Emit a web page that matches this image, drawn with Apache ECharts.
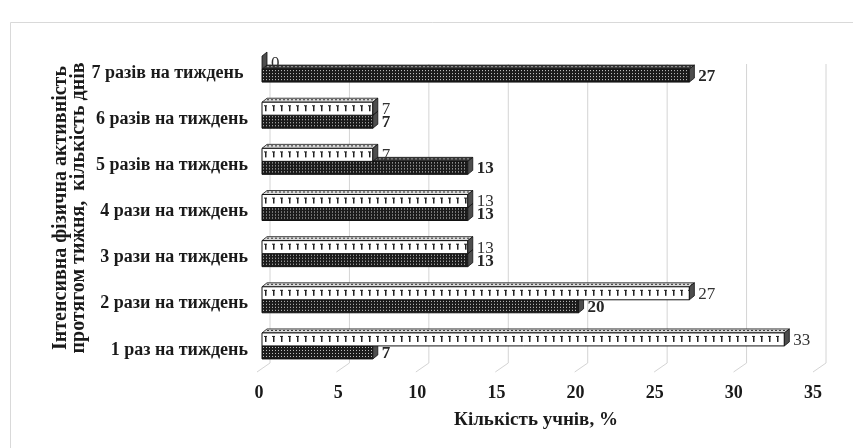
<!DOCTYPE html>
<html>
<head>
<meta charset="utf-8">
<style>
  html, body { margin: 0; padding: 0; background: #ffffff; }
  #chart { width: 853px; height: 448px; }
</style>
<script src="https://cdn.jsdelivr.net/npm/echarts@6/dist/echarts.min.js"></script>
</head>
<body>
<div id="chart"></div>
<script>
// Categories, bottom to top on the category axis
const categories = [
  '1 раз на тиждень',
  '2 рази на тиждень',
  '3 рази на тиждень',
  '4 рази на тиждень',
  '5 разів на тиждень',
  '6 разів на тиждень',
  '7 разів на тиждень '
];
// Light (zigzag) series, upper bar of each pair
const seriesLight = [33, 27, 13, 13, 7, 7, 0];
// Dark (dotted) series, lower bar of each pair
const seriesDark = [7, 20, 13, 13, 13, 7, 27];
// Value-axis ticks
const xTicks = [0, 5, 10, 15, 20, 25, 30, 35];

const SERIF = '"Liberation Serif", "Times New Roman", serif';
const Y_TITLE = 'Інтенсивна фізична активність\nпротягом тижня,  кількість днів';

// ---- fill patterns -------------------------------------------------------
function makeDotTile() {
  const c = document.createElement('canvas');
  c.width = 3; c.height = 3;
  const g = c.getContext('2d');
  g.fillStyle = '#1b1b1b';
  g.fillRect(0, 0, 3, 3);
  g.fillStyle = '#d6d6d6';
  g.fillRect(1, 1, 1, 1);
  return c;
}
function makeZigTile() {
  const c = document.createElement('canvas');
  c.width = 8; c.height = 13;
  const g = c.getContext('2d');
  g.fillStyle = '#ffffff';
  g.fillRect(0, 0, 8, 13);
  g.fillStyle = '#222222';
  g.fillRect(3, 3, 1.5, 6);
  g.fillRect(2, 3, 3, 1);
  return c;
}
function makeTopTile(dark) {
  const c = document.createElement('canvas');
  c.width = 4; c.height = 4;
  const g = c.getContext('2d');
  g.fillStyle = dark ? '#3a3a3a' : '#d8d8d8';
  g.fillRect(0, 0, 4, 4);
  g.fillStyle = dark ? '#9a9a9a' : '#333333';
  g.fillRect(1, 1, 2, 1);
  return c;
}
const dotTile = makeDotTile();
const zigTile = makeZigTile();
const topLightTile = makeTopTile(false);
const topDarkTile = makeTopTile(true);

// ---- 3D bar geometry -----------------------------------------------------
const BAR_H = 13;      // front face height
const DEPTH_X = 5;     // depth offset to the right
const DEPTH_Y = 4;     // depth offset upwards
const SHIFT_X = 3;     // bars sit slightly inside the depth box

function barRenderer(isLight) {
  return function (params, api) {
    const val = api.value(0);
    const idx = api.value(1);
    const start = api.coord([0, idx]);
    const end = api.coord([val, idx]);
    const cy = start[1];
    const x0 = start[0] + SHIFT_X;
    const x1 = end[0] + SHIFT_X;
    const yTop = isLight ? cy - 17 : cy - 4;
    const yBot = yTop + BAR_H;

    const children = [];
    if (x1 > x0) {
      children.push({
        type: 'polygon',
        shape: { points: [[x0, yTop], [x1, yTop], [x1 + DEPTH_X, yTop - DEPTH_Y], [x0 + DEPTH_X, yTop - DEPTH_Y]] },
        style: {
          fill: { image: isLight ? topLightTile : topDarkTile, repeat: 'repeat', x: x0, y: yTop - DEPTH_Y },
          stroke: '#1a1a1a', lineWidth: 0.8
        }
      });
      children.push({
        type: 'rect',
        shape: { x: x0, y: yTop, width: x1 - x0, height: BAR_H },
        style: {
          fill: { image: isLight ? zigTile : dotTile, repeat: 'repeat', x: x0, y: yTop },
          stroke: '#111111', lineWidth: 1
        }
      });
    }
    children.push({
      type: 'polygon',
      shape: { points: [[x1, yTop], [x1 + DEPTH_X, yTop - DEPTH_Y], [x1 + DEPTH_X, yBot - DEPTH_Y], [x1, yBot]] },
      style: { fill: '#4d4d4d', stroke: '#111111', lineWidth: 0.8 }
    });
    children.push({
      type: 'text',
      x: x1 + DEPTH_X + 4,
      y: (yTop + yBot) / 2 + 1,
      style: {
        text: String(val),
        font: (isLight ? 'normal ' : 'bold ') + '17px ' + SERIF,
        fill: isLight ? '#333333' : '#262626',
        verticalAlign: 'middle',
        align: 'left'
      }
    });
    return { type: 'group', children: children };
  };
}

// Back-wall gridlines with their slanted floor segments
function gridRenderer(params, api) {
  const p = api.coord([api.value(0), 0]);
  const cs = params.coordSys;
  const bottom = cs.y + cs.height;
  return {
    type: 'polyline',
    shape: { points: [[p[0], cs.y], [p[0], bottom], [p[0] - 13, bottom + 9]] },
    style: { stroke: '#d4d4d4', lineWidth: 1, fill: null }
  };
}

const chart = echarts.init(document.getElementById('chart'), null, { renderer: 'canvas' });

chart.setOption({
  animation: false,
  backgroundColor: '#ffffff',
  graphic: [
    {
      type: 'rect',
      shape: { x: 10.5, y: 22.5, width: 900, height: 600 },
      style: { fill: null, stroke: '#d9d9d9', lineWidth: 1 },
      silent: true, z: -10
    },
    {
      // vertical title of the category axis
      type: 'text',
      x: 70, y: 208,
      rotation: Math.PI / 2,
      style: {
        text: Y_TITLE,
        font: 'bold 20px ' + SERIF,
        lineHeight: 18,
        fill: '#1a1a1a',
        align: 'center',
        verticalAlign: 'middle'
      },
      silent: true
    }
  ],
  grid: [
    { left: 259, right: 40, top: 50, bottom: 75 },
    { left: 270, right: 27, top: 64, bottom: 85 }
  ],
  xAxis: [
    {
      type: 'value', gridIndex: 0, min: 0, max: 35, interval: 5,
      axisLine: { show: false }, axisTick: { show: false }, splitLine: { show: false },
      axisLabel: {
        margin: 11,
        fontFamily: SERIF, fontWeight: 'bold', fontSize: 18, color: '#1a1a1a',
        formatter: function (v) { return xTicks.indexOf(v) >= 0 ? String(v) : ''; }
      },
      name: 'Кількість учнів, %',
      nameLocation: 'middle',
      nameGap: 38,
      nameTextStyle: { fontFamily: SERIF, fontWeight: 'bold', fontSize: 19, color: '#1a1a1a' }
    },
    {
      type: 'value', gridIndex: 1, min: 0, max: 35, interval: 5, show: false
    }
  ],
  yAxis: [
    {
      type: 'category', gridIndex: 0, data: categories,
      axisLine: { show: false }, axisTick: { show: false }, splitLine: { show: false },
      axisLabel: {
        margin: 11,
        fontFamily: SERIF, fontWeight: 'bold', fontSize: 18, color: '#1a1a1a'
      }
    },
    { type: 'value', gridIndex: 1, min: 0, max: 1, show: false }
  ],
  series: [
    {
      type: 'custom', name: 'grid', xAxisIndex: 1, yAxisIndex: 1, silent: true,
      renderItem: gridRenderer,
      data: xTicks.map(function (v) { return [v, 0]; }),
      z: 1
    },
    {
      type: 'custom', name: 'Ряд 2', xAxisIndex: 0, yAxisIndex: 0,
      renderItem: barRenderer(false),
      encode: { x: 0, y: 1 },
      data: seriesDark.map(function (v, i) { return [v, i]; }),
      z: 2
    },
    {
      type: 'custom', name: 'Ряд 1', xAxisIndex: 0, yAxisIndex: 0,
      renderItem: barRenderer(true),
      encode: { x: 0, y: 1 },
      data: seriesLight.map(function (v, i) { return [v, i]; }),
      z: 3
    }
  ]
});
</script>
</body>
</html>
